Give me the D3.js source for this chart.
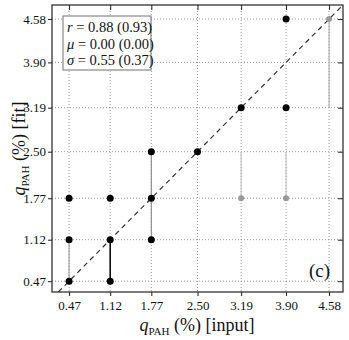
<!DOCTYPE html>
<html>
<head>
<meta charset="utf-8">
<script src="https://cdn.jsdelivr.net/npm/d3@7"></script>
<style>
  body { margin: 0; background: #fff; }
  text { font-family: "Liberation Serif", "DejaVu Serif", serif; fill: #111; }
</style>
</head>
<body>
<div id="chart"></div>
<script>
// tick values used on both axes
var tickVals = [0.47, 1.12, 1.77, 2.50, 3.19, 3.90, 4.58];

// points: input value, fitted value, shade
var ptIn    = [0.47, 0.47, 0.47, 1.12, 1.12, 1.12, 1.77, 1.77, 1.77, 2.50, 3.19, 3.90, 3.90, 3.19, 3.90, 4.58];
var ptFit   = [0.47, 1.12, 1.77, 0.47, 1.12, 1.77, 1.12, 1.77, 2.50, 2.50, 3.19, 3.19, 4.58, 1.77, 1.77, 4.58];
var ptShade = ["#000", "#000", "#000", "#000", "#000", "#000", "#000", "#000", "#000", "#000", "#000", "#000", "#000",
               "#999", "#999", "#999"];

// vertical spread bars
var barIn    = [0.47, 1.12, 1.77, 3.19, 3.90, 4.58];
var barLo    = [0.47, 0.47, 1.12, 1.77, 1.77, 3.19];
var barHi    = [1.12, 1.12, 2.50, 2.50, 2.50, 4.58];
var barShade = ["#a0a0a0", "#000", "#909090", "#c4c4c4", "#c4c4c4", "#b0b0b0"];

var statLines = [
  {sym: "r", val: "0.88", ref: "0.93"},
  {sym: "\u03bc", val: "0.00", ref: "0.00"},
  {sym: "\u03c3", val: "0.55", ref: "0.37"}
];

var svgWidth = 349;
var svgHeight = 340;
var pLeft = 52, pRight = 343, pTop = 5, pBottom = 292;

var svg = d3.select("#chart")
  .append("svg")
  .attr("width", svgWidth)
  .attr("height", svgHeight);

var xScale = d3.scaleLinear().domain([0.2, 4.8]).range([pLeft, pRight]);
var yScale = d3.scaleLinear().domain([0.3, 4.8]).range([pBottom, pTop]);

svg.append("clipPath").attr("id", "clip")
  .append("rect")
  .attr("x", pLeft).attr("y", pTop)
  .attr("width", pRight - pLeft).attr("height", pBottom - pTop);

// dotted grid
var grid = svg.append("g").attr("stroke", "#999").attr("stroke-width", 1).attr("stroke-dasharray", "1,2");
tickVals.forEach(function(t) {
  grid.append("line")
    .attr("x1", xScale(t)).attr("x2", xScale(t))
    .attr("y1", pTop).attr("y2", pBottom);
  grid.append("line")
    .attr("x1", pLeft).attr("x2", pRight)
    .attr("y1", yScale(t)).attr("y2", yScale(t));
});

// one-to-one line
svg.append("line")
  .attr("clip-path", "url(#clip)")
  .attr("x1", xScale(0.2)).attr("y1", yScale(0.2))
  .attr("x2", xScale(4.8)).attr("y2", yScale(4.8))
  .attr("stroke", "#333")
  .attr("stroke-width", 1.2)
  .attr("stroke-dasharray", "5,4");

// spread bars
barIn.forEach(function(v, i) {
  svg.append("line")
    .attr("x1", xScale(v)).attr("x2", xScale(v))
    .attr("y1", yScale(barLo[i])).attr("y2", yScale(barHi[i]))
    .attr("stroke", barShade[i])
    .attr("stroke-width", barShade[i] === "#000" ? 1.5 : 1.2);
});

// points
svg.append("g").selectAll("circle")
  .data(ptIn)
  .join("circle")
  .attr("cx", d => xScale(d))
  .attr("cy", (d, i) => yScale(ptFit[i]))
  .attr("r", (d, i) => ptShade[i] === "#000" ? 3.5 : 3)
  .attr("fill", (d, i) => ptShade[i]);

// axes
var fmt = d3.format(".2f");
var xAxis = svg.append("g").attr("transform", "translate(0," + pBottom + ")")
  .call(d3.axisBottom(xScale).tickValues(tickVals).tickFormat(fmt).tickSizeInner(4).tickSizeOuter(0).tickPadding(5));
var yAxis = svg.append("g").attr("transform", "translate(" + pLeft + ",0)")
  .call(d3.axisLeft(yScale).tickValues(tickVals).tickFormat(fmt).tickSizeInner(4).tickSizeOuter(0).tickPadding(2));
var xTop = svg.append("g").attr("transform", "translate(0," + pTop + ")")
  .call(d3.axisBottom(xScale).tickValues(tickVals).tickFormat("").tickSizeInner(5).tickSizeOuter(0));
var yRight = svg.append("g").attr("transform", "translate(" + pRight + ",0)")
  .call(d3.axisLeft(yScale).tickValues(tickVals).tickFormat("").tickSizeInner(5).tickSizeOuter(0));

[xAxis, yAxis, xTop, yRight].forEach(function(a) {
  a.select(".domain").remove();
  a.selectAll("line").attr("stroke", "#222");
  a.selectAll("text").attr("font-size", 13).attr("font-family", "Liberation Serif").attr("fill", "#111");
});

// frame
svg.append("rect")
  .attr("x", pLeft).attr("y", pTop)
  .attr("width", pRight - pLeft).attr("height", pBottom - pTop)
  .attr("fill", "none").attr("stroke", "#222").attr("stroke-width", 1.2);

// axis labels
function qLabel(g, rest) {
  g.append("tspan").attr("font-style", "italic").text("q");
  g.append("tspan").attr("font-size", 11).attr("dy", 4).text("PAH");
  g.append("tspan").attr("dy", -4).text(" " + rest);
}
var xl = svg.append("text")
  .attr("x", 197).attr("y", 331)
  .attr("text-anchor", "middle")
  .attr("font-size", 18);
qLabel(xl, "(%) [input]");

var yl = svg.append("text")
  .attr("transform", "translate(25," + ((pTop + pBottom) / 2) + ") rotate(-90)")
  .attr("text-anchor", "middle")
  .attr("font-size", 18);
qLabel(yl, "(%) [fit]");

// stats box
svg.append("rect")
  .attr("x", 63).attr("y", 16)
  .attr("width", 88).attr("height", 54)
  .attr("fill", "#fff")
  .attr("stroke", "#888")
  .attr("stroke-width", 1.2);

statLines.forEach(function(s, i) {
  var t = svg.append("text")
    .attr("x", 67).attr("y", 32 + i * 16.5)
    .attr("font-size", 14.5);
  t.append("tspan").attr("font-style", "italic").text(s.sym);
  t.append("tspan").text(" = " + s.val + " (" + s.ref + ")");
});

// panel tag
svg.append("text")
  .attr("x", 330).attr("y", 277)
  .attr("text-anchor", "end")
  .attr("font-size", 19)
  .text("(c)");
</script>
</body>
</html>
